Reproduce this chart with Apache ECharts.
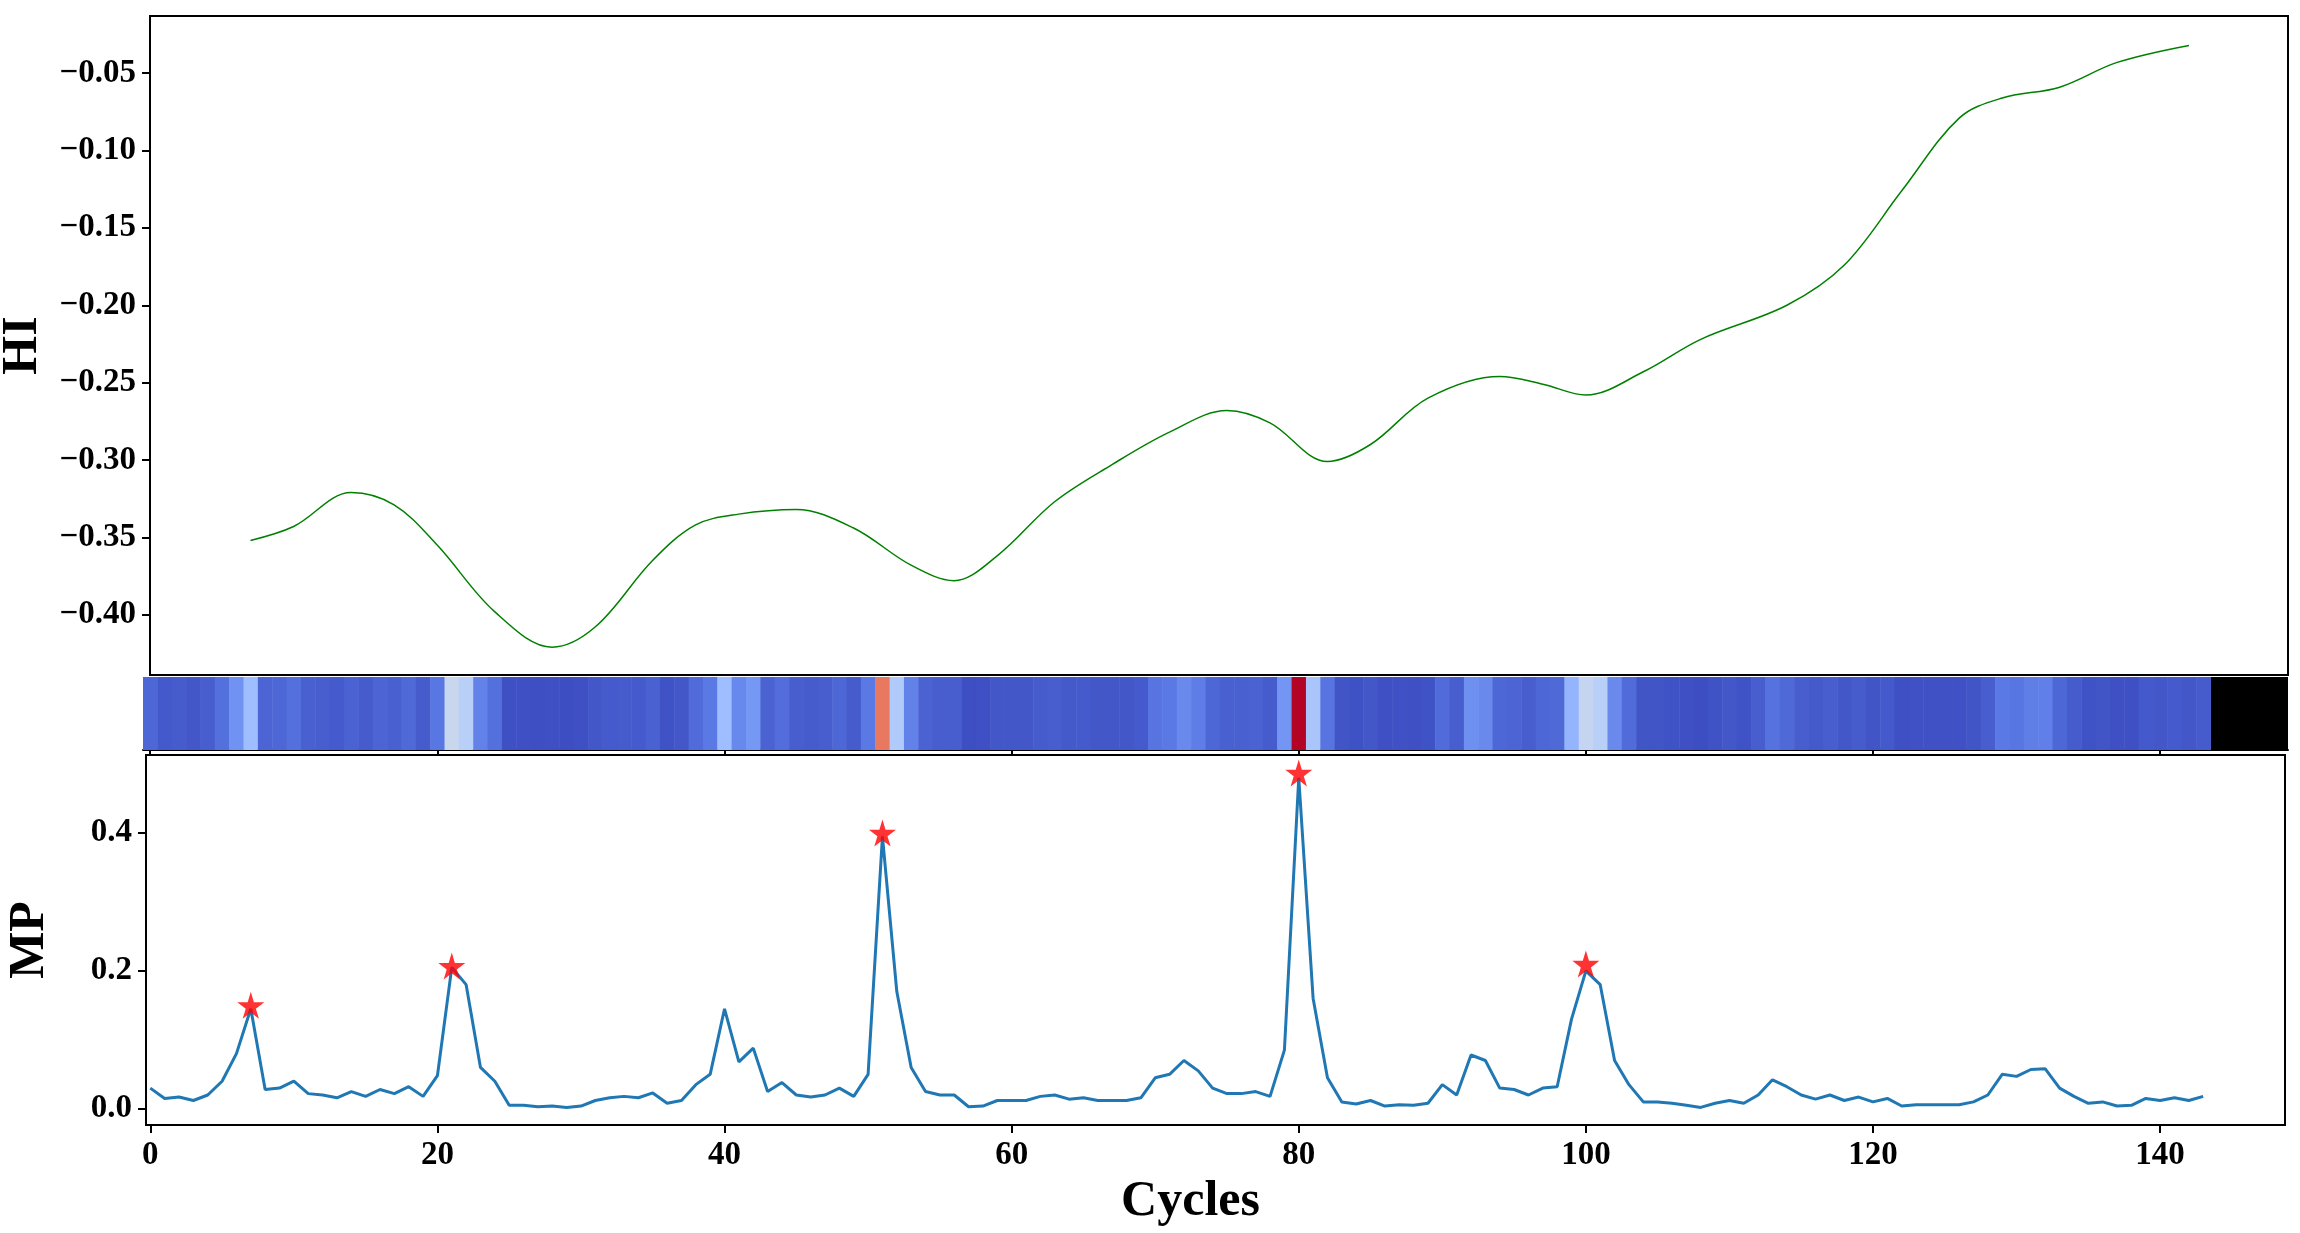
<!DOCTYPE html>
<html><head><meta charset="utf-8">
<script src="https://cdn.jsdelivr.net/npm/echarts@6/dist/echarts.min.js"></script>
<style>html,body{margin:0;padding:0;background:#fff}#c{width:2300px;height:1233px}</style>
</head><body><div id="c"></div>
<script>
const hiCycles = [7,10,14,17,20,24,28,31,35,38,41,45,49,53,56,59,63,67,71,75,78,82,85,89,94,97,100,104,108,114,118,122,126,129,133,137,142];
const hiValues = [-0.352,-0.343,-0.321,-0.329,-0.355,-0.398,-0.421,-0.408,-0.365,-0.342,-0.335,-0.332,-0.344,-0.368,-0.378,-0.362,-0.327,-0.303,-0.282,-0.268,-0.276,-0.301,-0.290,-0.260,-0.246,-0.251,-0.258,-0.243,-0.222,-0.200,-0.174,-0.126,-0.079,-0.066,-0.059,-0.043,-0.032];
const mpValues = [0.03,0.015,0.017,0.012,0.02,0.04,0.08,0.145,0.028,0.03,0.04,0.022,0.02,0.016,0.025,0.018,0.028,0.022,0.032,0.018,0.048,0.205,0.18,0.06,0.04,0.005,0.005,0.003,0.004,0.002,0.004,0.012,0.016,0.018,0.016,0.023,0.008,0.012,0.035,0.05,0.145,0.068,0.088,0.025,0.038,0.02,0.017,0.02,0.03,0.018,0.05,0.395,0.17,0.06,0.025,0.02,0.02,0.003,0.004,0.012,0.012,0.012,0.018,0.02,0.014,0.016,0.012,0.012,0.012,0.016,0.045,0.05,0.07,0.055,0.03,0.022,0.022,0.025,0.018,0.085,0.48,0.16,0.045,0.01,0.007,0.012,0.004,0.006,0.005,0.008,0.035,0.02,0.078,0.07,0.03,0.028,0.02,0.03,0.032,0.13,0.2,0.18,0.07,0.035,0.01,0.01,0.008,0.005,0.002,0.008,0.012,0.008,0.02,0.042,0.032,0.02,0.014,0.02,0.012,0.017,0.01,0.015,0.004,0.006,0.006,0.006,0.006,0.01,0.02,0.05,0.047,0.057,0.058,0.03,0.018,0.008,0.01,0.004,0.005,0.015,0.012,0.016,0.012,0.018];
const peakCycles = [7,21,51,80,100];
const peakValues = [0.15,0.207,0.40,0.487,0.21];
const hiTicks = [-0.40,-0.35,-0.30,-0.25,-0.20,-0.15,-0.10,-0.05];
const mpTicks = [0,0.2,0.4];
const cycleTicks = [0,20,40,60,80,100,120,140];

const F = '"Liberation Serif","DejaVu Serif",serif';
const lab = {fontFamily:F,fontWeight:'bold',fontSize:33,color:'#000'};
const nameS = {fontFamily:F,fontWeight:'bold',fontSize:50,color:'#000'};
const chart = echarts.init(document.getElementById('c'));
const star = 'path://M50,0 L61,35 L98,35 L68,57 L79,91 L50,70 L21,91 L32,57 L2,35 L39,35 Z';
const G = {outerBoundsMode:'none',containLabel:false};
chart.setOption({
  animation:false,
  grid:[
    Object.assign({left:150,right:12,top:16,height:659,show:true,borderColor:'#000',borderWidth:2},G),
    Object.assign({left:143,right:12,top:677,height:73},G),
    Object.assign({left:146,right:15,top:755,height:370,show:true,borderColor:'#000',borderWidth:2},G)
  ],
  visualMap:{show:false,seriesIndex:1,dimension:2,min:0,max:0.48,
    inRange:{color:['#3b4cc0','#5977e3','#7b9ff9','#9ebeff','#c0d4f5','#dddcdc','#f2cbb7','#f7a889','#ee8468','#d65244','#b40426']}},
  xAxis:[
    {gridIndex:0,type:'value',min:0,max:148.9,axisLine:{show:false},axisTick:{show:false},axisLabel:{show:false},splitLine:{show:false}},
    {gridIndex:1,type:'value',min:-0.5,max:148.9,axisLine:{onZero:false,lineStyle:{color:'#000',width:2}},axisTick:{length:6,lineStyle:{color:'#000',width:2},customValues:cycleTicks},axisLabel:{show:false},splitLine:{show:false}},
    {gridIndex:2,type:'value',min:-0.3,max:148.7,axisLine:{onZero:false,lineStyle:{color:'#000',width:2}},axisTick:{length:8,lineStyle:{color:'#000',width:2},customValues:cycleTicks},
      axisLabel:Object.assign({customValues:cycleTicks,margin:14},lab),splitLine:{show:false},
      name:'Cycles',nameLocation:'middle',nameGap:52,nameTextStyle:Object.assign({padding:[0,50,0,0]},nameS)}
  ],
  yAxis:[
    {gridIndex:0,type:'value',min:-0.439,max:-0.013,axisLine:{onZero:false,lineStyle:{color:'#000',width:2}},
      axisTick:{length:8,lineStyle:{color:'#000',width:2},customValues:hiTicks},
      axisLabel:Object.assign({customValues:hiTicks,margin:14,formatter:v=>'\u2212'+Math.abs(v).toFixed(2)},lab),
      splitLine:{show:false},name:'HI',nameLocation:'middle',nameGap:95,nameTextStyle:nameS},
    {gridIndex:1,type:'value',min:0,max:1,show:false},
    {gridIndex:2,type:'value',min:-0.0235,max:0.513,axisLine:{onZero:false,lineStyle:{color:'#000',width:2}},
      axisTick:{length:8,lineStyle:{color:'#000',width:2},customValues:mpTicks},
      axisLabel:Object.assign({customValues:mpTicks,margin:14,formatter:v=>v.toFixed(1)},lab),
      splitLine:{show:false},name:'MP',nameLocation:'middle',nameGap:91,nameTextStyle:nameS}
  ],
  series:[
    {type:'line',xAxisIndex:0,yAxisIndex:0,smooth:0.35,symbol:'none',lineStyle:{color:'#008000',width:1.5},
      data:hiCycles.map((c,i)=>[c,hiValues[i]])},
    {type:'custom',xAxisIndex:1,yAxisIndex:1,
      renderItem:(params,api)=>{
        const p0=api.coord([api.value(0)-0.5,1]), p1=api.coord([api.value(0)+0.5,0]);
        return {type:'rect',shape:{x:p0[0],y:p0[1],width:p1[0]-p0[0]+0.5,height:p1[1]-p0[1]},style:{fill:api.visual('color')}};
      },
      data:mpValues.map((v,i)=>[i,0.5,v]),
      markArea:{silent:true,itemStyle:{color:'#000'},data:[[{xAxis:143.5,yAxis:0},{xAxis:148.9,yAxis:1}]]}},
    {type:'line',xAxisIndex:2,yAxisIndex:2,symbol:'none',lineStyle:{color:'#1f77b4',width:3},
      data:mpValues.map((v,i)=>[i,v])},
    {type:'scatter',xAxisIndex:2,yAxisIndex:2,symbol:star,symbolSize:27,itemStyle:{color:'#ff0000'},z:5,
      data:peakCycles.map((c,i)=>[c,peakValues[i]])}
  ]
});
</script></body></html>
